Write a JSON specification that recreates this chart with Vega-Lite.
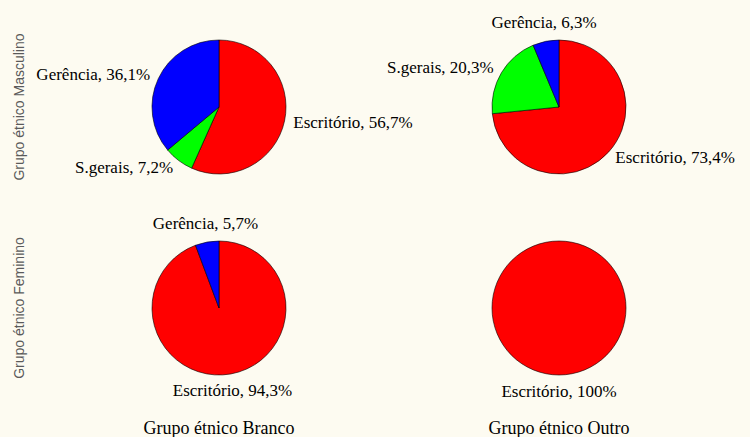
{
  "$schema": "https://vega.github.io/schema/vega-lite/v6.json",
  "background": "#fdfbf1",
  "bounds": "flush",
  "padding": {"left": 12, "top": 14, "right": 41, "bottom": 8},
  "data": {"values": [
    {"sexo": "Masculino", "grupo": "Grupo étnico Branco", "cat": "Escritório", "ordem": 1, "pct": 56.7, "rotulo": "Escritório, 56,7%"},
    {"sexo": "Masculino", "grupo": "Grupo étnico Branco", "cat": "S.gerais", "ordem": 2, "pct": 7.2, "rotulo": "S.gerais, 7,2%"},
    {"sexo": "Masculino", "grupo": "Grupo étnico Branco", "cat": "Gerência", "ordem": 3, "pct": 36.1, "rotulo": "Gerência, 36,1%"},
    {"sexo": "Masculino", "grupo": "Grupo étnico Outro", "cat": "Escritório", "ordem": 1, "pct": 73.4, "rotulo": "Escritório, 73,4%"},
    {"sexo": "Masculino", "grupo": "Grupo étnico Outro", "cat": "S.gerais", "ordem": 2, "pct": 20.3, "rotulo": "S.gerais, 20,3%"},
    {"sexo": "Masculino", "grupo": "Grupo étnico Outro", "cat": "Gerência", "ordem": 3, "pct": 6.3, "rotulo": "Gerência, 6,3%"},
    {"sexo": "Feminino", "grupo": "Grupo étnico Branco", "cat": "Escritório", "ordem": 1, "pct": 94.3, "rotulo": "Escritório, 94,3%"},
    {"sexo": "Feminino", "grupo": "Grupo étnico Branco", "cat": "Gerência", "ordem": 3, "pct": 5.7, "rotulo": "Gerência, 5,7%"},
    {"sexo": "Feminino", "grupo": "Grupo étnico Outro", "cat": "Escritório", "ordem": 1, "pct": 100, "rotulo": "Escritório, 100%"}
  ]},
  "facet": {
    "row": {"field": "sexo", "type": "nominal", "sort": ["Masculino", "Feminino"], "title": null,
      "header": {"labelExpr": "'Grupo étnico ' + datum.value", "labelAngle": -90, "labelOrient": "left", "labelFont": "Liberation Sans", "labelFontSize": 14, "labelColor": "#5a5a5a", "labelPadding": 35}},
    "column": {"field": "grupo", "type": "nominal", "title": null,
      "header": {"labelOrient": "bottom", "labelFont": "Liberation Serif", "labelFontSize": 18, "labelColor": "#000000", "labelPadding": 22}}
  },
  "spacing": {"row": 21, "column": 40},
  "spec": {
    "width": 300,
    "height": 180,
    "encoding": {
      "theta": {"field": "pct", "type": "quantitative", "stack": true},
      "order": {"field": "ordem", "type": "quantitative"}
    },
    "layer": [
      {
        "mark": {"type": "arc", "outerRadius": 67, "stroke": "#000000", "strokeWidth": 0.6},
        "encoding": {
          "color": {"field": "cat", "type": "nominal", "legend": null,
            "scale": {"domain": ["Escritório", "S.gerais", "Gerência"], "range": ["#ff0000", "#00ff00", "#0000ff"]}}
        }
      },
      {
        "mark": {"type": "text", "radius": 76, "font": "Liberation Serif", "fontSize": 17, "color": "#000000",
          "align": {"expr": "sin(PI*(datum.pct_start+datum.pct_end)/100) > 0.3 ? 'left' : (sin(PI*(datum.pct_start+datum.pct_end)/100) < -0.3 ? 'right' : 'center')"},
          "baseline": {"expr": "abs(sin(PI*(datum.pct_start+datum.pct_end)/100)) > 0.3 ? 'middle' : (cos(PI*(datum.pct_start+datum.pct_end)/100) > 0 ? 'bottom' : 'top')"}},
        "encoding": {
          "text": {"field": "rotulo", "type": "nominal"}
        }
      }
    ]
  },
  "config": {"view": {"stroke": null}}
}
